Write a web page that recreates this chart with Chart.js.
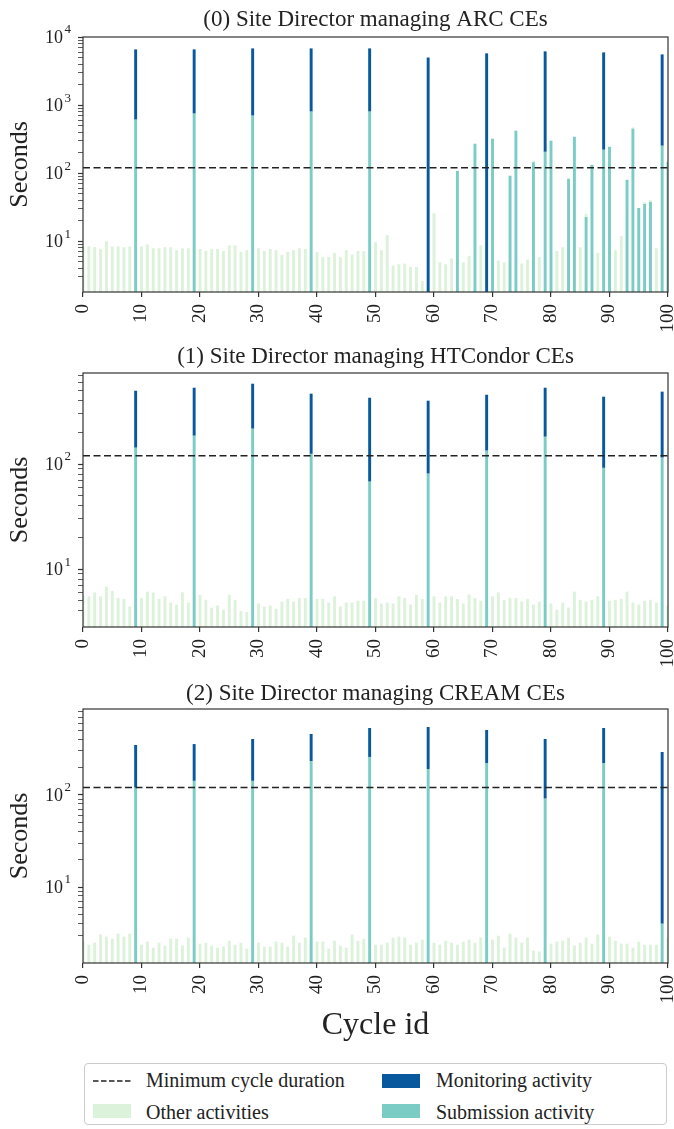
<!DOCTYPE html>
<html>
<head>
<meta charset="utf-8">
<script src="https://cdn.jsdelivr.net/npm/chart.js@4.4.1/dist/chart.umd.min.js"></script>
<style>
  body { margin: 0; background: #fff; }
  #page { position: relative; width: 674px; height: 1129px; font-family: "Liberation Serif", "Times New Roman", serif; color: #222; }
  canvas { position: absolute; left: 0; }
  .xlabel { position: absolute; left: 83px; width: 585px; top: 1005px; text-align: center; font-size: 32px; line-height: 36px; }
  #legend { position: absolute; left: 84px; top: 1063px; width: 583px; height: 62px; border: 1px solid #ccc; border-radius: 4px; box-sizing: border-box; }
  .item { position: absolute; font-size: 20px; line-height: 22px; white-space: nowrap; }
  .swatch { position: absolute; width: 38px; height: 14px; }
  .dash { position: absolute; }
</style>
</head>
<body>
<div id="page">
  <canvas id="arc" width="674" height="337" style="top:0px"></canvas>
  <canvas id="htc" width="674" height="332" style="top:340px"></canvas>
  <canvas id="cream" width="674" height="332" style="top:676px"></canvas>
  <div class="xlabel">Cycle id</div>
  <div id="legend">
    <svg class="dash" style="left:8px;top:15px" width="38" height="4"><line x1="0" y1="2" x2="38" y2="2" stroke="#222" stroke-width="1.5" stroke-dasharray="5.5 2.5"/></svg>
    <div class="item" style="left:61px;top:5px">Minimum cycle duration</div>
    <div class="swatch" style="left:8px;top:40px;background:#ddf2da"></div>
    <div class="item" style="left:61px;top:37px">Other activities</div>
    <div class="swatch" style="left:297px;top:10px;background:#08589e"></div>
    <div class="item" style="left:351px;top:5px">Monitoring activity</div>
    <div class="swatch" style="left:297px;top:40px;background:#7bccc4"></div>
    <div class="item" style="left:351px;top:37px">Submission activity</div>
  </div>
</div>
<script>
const FONT = '"Liberation Serif", "Times New Roman", serif';
const INK = "#222222";
const SPINE = "#333333";
const COLOR = { other: "#ddf2da", submission: "#7bccc4", monitoring: "#08589e", line: "#222222" };

const MIN_CYCLE = 120;
const cycles = Array.from({ length: 101 }, (_, i) => i);
const xTicks = [0, 10, 20, 30, 40, 50, 60, 70, 80, 90, 100];

// (0) ARC CEs
const arcOther = [
  8.4, 8.4, 8.2, 7.7, 10, 8.4, 8.4, 8.2, 8.4, 0,
  8.4, 9.0, 7.9, 7.9, 8.2, 8.2, 7.4, 7.9, 7.9, 0,
  7.7, 7.2, 7.7, 7.7, 7.2, 8.7, 8.7, 7.0, 7.4, 0,
  7.9, 7.2, 7.7, 7.4, 6.3, 7.0, 7.4, 7.9, 7.7, 0,
  7.0, 5.9, 5.9, 6.7, 5.9, 7.4, 6.4, 7.2, 7.2, 0,
  9.7, 7.4, 12.3, 4.4, 4.6, 4.7, 4.2, 4.2, 2.6, 0,
  25.9, 4.9, 4.6, 5.6, 0, 4.9, 6.1, 9, 8.7, 0,
  0, 5.2, 4.9, 3, 0, 4.7, 5.4, 7, 5.9, 0,
  0, 7.2, 8.2, 3, 0, 8.2, 2.4, 0, 6.7, 0,
  0, 7.4, 11.9, 0, 20, 0, 2.5, 2.6, 7.9, 0,
  0
];
const arcSubmission = [
  0, 0, 0, 0, 0, 0, 0, 0, 0, 611,
  0, 0, 0, 0, 0, 0, 0, 0, 0, 750,
  0, 0, 0, 0, 0, 0, 0, 0, 0, 700,
  0, 0, 0, 0, 0, 0, 0, 0, 0, 802,
  0, 0, 0, 0, 0, 0, 0, 0, 0, 802,
  0, 0, 0, 0, 0, 0, 0, 0, 0, 0,
  0, 0, 0, 0, 108, 0, 0, 268, 0, 0,
  321, 0, 0, 91, 421, 0, 0, 145, 0, 206,
  300, 0, 0, 82, 343, 0, 22.7, 133, 0, 221,
  244, 0, 0, 80, 451, 30.8, 35.3, 37.8, 0, 253,
  147
];
const arcMonitoring = [
  0, 0, 0, 0, 0, 0, 0, 0, 0, 5970,
  0, 0, 0, 0, 0, 0, 0, 0, 0, 5830,
  0, 0, 0, 0, 0, 0, 0, 0, 0, 6100,
  0, 0, 0, 0, 0, 0, 0, 0, 0, 6000,
  0, 0, 0, 0, 0, 0, 0, 0, 0, 6000,
  0, 0, 0, 0, 0, 0, 0, 0, 0, 5000,
  0, 0, 0, 0, 0, 0, 0, 0, 0, 5750,
  0, 0, 0, 0, 0, 0, 0, 0, 0, 5950,
  0, 0, 0, 0, 0, 0, 0, 0, 0, 5720,
  0, 0, 0, 0, 0, 0, 0, 0, 0, 5300,
  0
];

// (1) HTCondor CEs
const htcOther = [
  5.5, 5.5, 6.0, 5.5, 6.8, 6.2, 5.3, 5.2, 4.4, 0,
  5.3, 6.1, 6.0, 5.2, 5.5, 4.8, 4.6, 6.0, 4.8, 0,
  5.7, 5.1, 4.3, 4.5, 4.1, 5.7, 5.1, 4.0, 3.9, 0,
  4.7, 4.4, 4.5, 4.2, 4.9, 5.2, 4.9, 5.3, 5.3, 0,
  5.2, 5.2, 4.8, 5.5, 4.4, 4.8, 4.8, 5.0, 5.0, 0,
  5.3, 4.7, 4.8, 4.7, 5.5, 5.3, 4.6, 5.7, 5.2, 0,
  5.5, 4.8, 5.5, 5.5, 5.2, 4.7, 5.7, 5.3, 5.0, 0,
  5.5, 6.0, 5.1, 5.3, 5.3, 4.9, 5.2, 4.6, 4.9, 0,
  4.7, 4.1, 4.8, 4.3, 6.1, 5.1, 4.9, 5.1, 5.5, 0,
  5.0, 5.1, 5.2, 6.1, 4.8, 4.6, 5.0, 5.1, 4.8, 0,
  4.5
];
const htcSubmission = [
  0, 0, 0, 0, 0, 0, 0, 0, 0, 143,
  0, 0, 0, 0, 0, 0, 0, 0, 0, 186,
  0, 0, 0, 0, 0, 0, 0, 0, 0, 217,
  0, 0, 0, 0, 0, 0, 0, 0, 0, 125,
  0, 0, 0, 0, 0, 0, 0, 0, 0, 68,
  0, 0, 0, 0, 0, 0, 0, 0, 0, 81,
  0, 0, 0, 0, 0, 0, 0, 0, 0, 134,
  0, 0, 0, 0, 0, 0, 0, 0, 0, 182,
  0, 0, 0, 0, 0, 0, 0, 0, 0, 92,
  0, 0, 0, 0, 0, 0, 0, 0, 0, 115,
  0
];
const htcMonitoring = [
  0, 0, 0, 0, 0, 0, 0, 0, 0, 356,
  0, 0, 0, 0, 0, 0, 0, 0, 0, 347,
  0, 0, 0, 0, 0, 0, 0, 0, 0, 365,
  0, 0, 0, 0, 0, 0, 0, 0, 0, 343,
  0, 0, 0, 0, 0, 0, 0, 0, 0, 360,
  0, 0, 0, 0, 0, 0, 0, 0, 0, 320,
  0, 0, 0, 0, 0, 0, 0, 0, 0, 323,
  0, 0, 0, 0, 0, 0, 0, 0, 0, 351,
  0, 0, 0, 0, 0, 0, 0, 0, 0, 346,
  0, 0, 0, 0, 0, 0, 0, 0, 0, 374,
  0
];

// (2) CREAM CEs
const creamOther = [
  2.6, 2.37, 2.49, 3.05, 2.9, 2.75, 3.12, 2.9, 3.12, 0,
  2.37, 2.56, 2.2, 2.49, 2.32, 2.75, 2.75, 2.32, 2.83, 0,
  2.43, 2.49, 2.32, 2.2, 2.26, 2.62, 2.37, 2.49, 2.15, 0,
  2.49, 2.26, 2.26, 2.56, 2.49, 2.26, 2.97, 2.49, 2.83, 0,
  2.56, 2.56, 2.15, 2.62, 2.32, 2.2, 3.05, 2.62, 2.75, 0,
  2.37, 2.37, 2.49, 2.83, 2.9, 2.83, 2.37, 2.49, 2.69, 0,
  2.49, 2.37, 2.62, 2.49, 2.37, 2.56, 2.69, 2.49, 2.83, 0,
  2.69, 2.97, 2.2, 3.12, 2.83, 2.49, 2.83, 2.04, 2.0, 0,
  2.43, 2.56, 2.62, 2.83, 2.32, 2.49, 2.83, 2.43, 3.05, 0,
  2.9, 2.62, 2.43, 2.43, 2.2, 2.56, 2.37, 2.37, 2.37, 0,
  2.83
];
const creamSubmission = [
  0, 0, 0, 0, 0, 0, 0, 0, 0, 120,
  0, 0, 0, 0, 0, 0, 0, 0, 0, 142,
  0, 0, 0, 0, 0, 0, 0, 0, 0, 142,
  0, 0, 0, 0, 0, 0, 0, 0, 0, 233,
  0, 0, 0, 0, 0, 0, 0, 0, 0, 258,
  0, 0, 0, 0, 0, 0, 0, 0, 0, 191,
  0, 0, 0, 0, 0, 0, 0, 0, 0, 222,
  0, 0, 0, 0, 0, 0, 0, 0, 0, 91,
  0, 0, 0, 0, 0, 0, 0, 0, 0, 222,
  0, 0, 0, 0, 0, 0, 0, 0, 0, 4.0,
  0
];
const creamMonitoring = [
  0, 0, 0, 0, 0, 0, 0, 0, 0, 228,
  0, 0, 0, 0, 0, 0, 0, 0, 0, 214,
  0, 0, 0, 0, 0, 0, 0, 0, 0, 262,
  0, 0, 0, 0, 0, 0, 0, 0, 0, 225,
  0, 0, 0, 0, 0, 0, 0, 0, 0, 274,
  0, 0, 0, 0, 0, 0, 0, 0, 0, 354,
  0, 0, 0, 0, 0, 0, 0, 0, 0, 284,
  0, 0, 0, 0, 0, 0, 0, 0, 0, 313,
  0, 0, 0, 0, 0, 0, 0, 0, 0, 310,
  0, 0, 0, 0, 0, 0, 0, 0, 0, 288,
  0
];

// frame, panel title and 10^n labels (raised exponent), drawn after the bars
const panelFrame = {
  id: "panelFrame",
  afterDraw(chart, args, opts) {
    const { ctx, chartArea: a } = chart;
    const y = chart.scales.y;
    ctx.save();
    ctx.strokeStyle = SPINE;
    ctx.lineWidth = 1.2;
    ctx.strokeRect(a.left, a.top, a.right - a.left, a.bottom - a.top);

    ctx.fillStyle = INK;
    ctx.font = `23px ${FONT}`;
    ctx.textAlign = "center";
    ctx.textBaseline = "middle";
    ctx.fillText(opts.text, (a.left + a.right) / 2, a.top - opts.gap);

    ctx.textAlign = "right";
    const xEnd = a.left - 12;
    y.ticks.filter(t => t.major).forEach(t => {
      const py = y.getPixelForValue(t.value);
      const exp = String(Math.round(Math.log10(t.value)));
      ctx.font = `13px ${FONT}`;
      const ew = ctx.measureText(exp).width;
      ctx.fillText(exp, xEnd, py - 7);
      ctx.font = `18px ${FONT}`;
      ctx.fillText("10", xEnd - ew - 1.5, py + 1);
    });
    ctx.restore();
  },
};

function keepIntegerSignificands(scale) {
  scale.ticks = scale.ticks.filter(t => {
    const e = Math.floor(Math.log10(t.value) + 1e-9);
    const s = t.value / Math.pow(10, e);
    return Math.abs(s - Math.round(s)) < 1e-6;
  });
}

function renderPanel(id, title, submission, monitoring, other, yMin, yMax, padTop, gap) {
  const ctx = document.getElementById(id).getContext("2d");
  const bar = { barPercentage: 0.5, categoryPercentage: 1, borderWidth: 0 };
  return new Chart(ctx, {
    type: "bar",
    data: {
      labels: cycles,
      datasets: [
        { label: "Submission activity", data: submission, backgroundColor: COLOR.submission, order: 1, ...bar },
        { label: "Monitoring activity", data: monitoring, backgroundColor: COLOR.monitoring, order: 1, ...bar },
        { label: "Other activities", data: other, backgroundColor: COLOR.other, order: 1, ...bar },
        {
          type: "line", label: "Minimum cycle duration", order: 0,
          data: [{ x: xTicks[0], y: MIN_CYCLE }, { x: xTicks[xTicks.length - 1], y: MIN_CYCLE }],
          borderColor: COLOR.line, borderWidth: 1.5, borderDash: [7, 3.5], pointRadius: 0, fill: false,
        },
      ],
    },
    options: {
      responsive: false,
      animation: false,
      devicePixelRatio: 1,
      layout: { padding: { top: padTop, right: 6, left: 0, bottom: 0 } },
      plugins: {
        legend: { display: false },
        tooltip: { enabled: false },
        panelFrame: { text: title, gap },
      },
      scales: {
        x: {
          type: "linear", stacked: true, offset: false, min: 0, max: 100,
          grid: { display: true, offset: false, drawOnChartArea: false, tickLength: 5, color: SPINE, lineWidth: 1.2 },
          border: { display: false },
          afterBuildTicks: s => { s.ticks = xTicks.map(v => ({ value: v })); },
          afterFit: s => { s.height = 45; s.paddingLeft = 0; s.paddingRight = 0; },
          ticks: {
            autoSkip: false, minRotation: 90, maxRotation: 90, padding: 7,
            color: INK, font: { family: FONT, size: 19 },
            callback: v => String(v),
          },
        },
        y: {
          type: "logarithmic", stacked: true, min: yMin, max: yMax,
          grid: {
            display: true, drawOnChartArea: false, tickLength: 5, color: SPINE,
            tickWidth: c => (c.tick && c.tick.major ? 1.2 : 0.8),
          },
          border: { display: false },
          afterBuildTicks: keepIntegerSignificands,
          afterFit: s => { s.width = 83; },
          ticks: { autoSkip: false, padding: 6, color: INK, font: { family: FONT, size: 17 }, callback: () => "" },
          title: { display: true, text: "Seconds", color: INK, font: { family: FONT, size: 26 }, padding: { top: 5, bottom: 0 } },
        },
      },
    },
    plugins: [panelFrame],
  });
}

renderPanel("arc", "(0) Site Director managing ARC CEs", arcSubmission, arcMonitoring, arcOther, 1.8, 10000, 37, 17);
renderPanel("htc", "(1) Site Director managing HTCondor CEs", htcSubmission, htcMonitoring, htcOther, 2.81, 736, 33, 16);
renderPanel("cream", "(2) Site Director managing CREAM CEs", creamSubmission, creamMonitoring, creamOther, 1.5, 855, 33, 15);
</script>
</body>
</html>
